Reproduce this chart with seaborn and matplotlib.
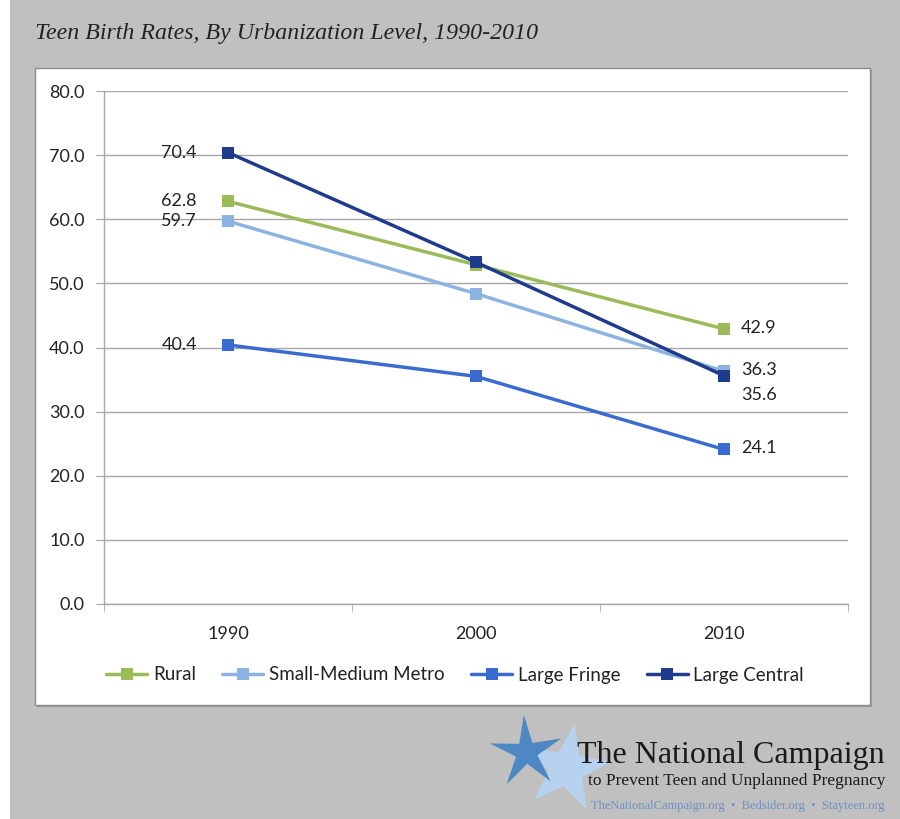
import pandas as pd
import numpy as np
import seaborn as sns
import matplotlib.pyplot as plt
from matplotlib.patches import Rectangle
from matplotlib.path import Path

# values
years = [1990, 2000, 2010]
levels = ["Rural", "Small-Medium Metro", "Large Fringe", "Large Central"]
rural = [62.8, 52.9, 42.9]
small_medium = [59.7, 48.4, 36.3]
large_fringe = [40.4, 35.5, 24.1]
large_central = [70.4, 53.3, 35.6]
colors = ["#9bbb59", "#8db3e2", "#3a6bd0", "#1f3c8c"]

sns.set_style("white")
plt.rcParams['font.family'] = ['Lato', 'DejaVu Sans']

df = pd.DataFrame({
    "year": years * 4,
    "rate": rural + small_medium + large_fringe + large_central,
    "level": [l for l in levels for _ in years],
})

fig = plt.figure(figsize=(9, 8.19), dpi=100)
fig.patch.set_facecolor("white")
W, H = 900, 819

# gray backdrop and white chart box
fig.patches.append(Rectangle((10 / W, 0), 1, 1, transform=fig.transFigure,
                             facecolor="#c0c0c0", edgecolor="none", zorder=-10))
fig.patches.append(Rectangle((37 / W, 1 - 707 / H), 835 / W, 637 / H, transform=fig.transFigure,
                             facecolor="#9a9a9a", edgecolor="none", zorder=-9))
fig.patches.append(Rectangle((35 / W, 1 - 705 / H), 835 / W, 637 / H, transform=fig.transFigure,
                             facecolor="white", edgecolor="#8c8c8c", linewidth=1.0, zorder=-8))

fig.text(35 / W, 1 - 33 / H, "Teen Birth Rates, By Urbanization Level, 1990-2010",
         family="Liberation Serif", style="italic", fontsize=17.2, color="#222222",
         ha="left", va="center")

ax = fig.add_axes([104 / W, 1 - 604 / H, 744 / W, 513 / H])
ax.set_facecolor("none")

sns.lineplot(data=df, x="year", y="rate", hue="level", hue_order=levels,
             palette=colors, style="level", style_order=levels,
             markers=["s"] * 4, dashes=False, markersize=8, markeredgewidth=0,
             linewidth=2.5, ax=ax)

ax.set_xlim(1985, 2015)
ax.set_ylim(0, 80)
ax.set_yticks(np.arange(0, 81, 10))
ax.set_yticklabels([f"{v:.1f}" for v in np.arange(0, 81, 10)])
ax.set_xticks(years)
ax.set_xticks([1985, 1995, 2005, 2015], minor=True)
ax.grid(axis="y", color="#a6a6a6", linewidth=1)
ax.set_xlabel("")
ax.set_ylabel("")
for s in ["top", "right"]:
    ax.spines[s].set_visible(False)
for s in ["left", "bottom"]:
    ax.spines[s].set_color("#a6a6a6")
    ax.spines[s].set_linewidth(1)
ax.tick_params(axis="y", which="major", length=6, color="#a6a6a6", labelsize=13,
               labelcolor="#222222", pad=8, left=True)
ax.tick_params(axis="x", which="major", length=0, labelsize=13, labelcolor="#222222", pad=16)
ax.tick_params(axis="x", which="minor", length=5, color="#a6a6a6", bottom=True)

# data labels
series = [rural, small_medium, large_fringe, large_central]
for vals in series:
    ax.annotate(f"{vals[0]:.1f}", (years[0], vals[0]), xytext=(-31, 0),
                textcoords="offset pixels", ha="right", va="center",
                fontsize=13, color="#222222")
end_shift = [0, 0, 0, -20]
for vals, dy in zip(series, end_shift):
    ax.annotate(f"{vals[-1]:.1f}", (years[-1], vals[-1]), xytext=(17, dy + 1),
                textcoords="offset pixels", ha="left", va="center",
                fontsize=13, color="#222222")

handles, labels = ax.get_legend_handles_labels()
ax.legend_.remove()
fig.legend(handles, labels, loc="center", bbox_to_anchor=(455 / W, 1 - 675 / H),
           ncol=4, frameon=False, fontsize=13.5, handlelength=2.2,
           columnspacing=1.4, handletextpad=0.3, labelcolor="#222222")


# logo stars
def star_path(rot, inner=0.33):
    ang = np.deg2rad(np.arange(10) * 36 + 90 + rot)
    r = np.where(np.arange(10) % 2 == 0, 1.0, inner)
    verts = np.column_stack([r * np.cos(ang), r * np.sin(ang)])
    verts = np.vstack([verts, verts[:1]])
    codes = [Path.MOVETO] + [Path.LINETO] * 9 + [Path.CLOSEPOLY]
    return Path(verts, codes)


lax = fig.add_axes([0, 0, 1, 1], zorder=-5)
lax.set_xlim(0, W)
lax.set_ylim(H, 0)
lax.axis("off")
lax.plot([566], [768], marker=star_path(-10, 0.4), markersize=64, color="#b6d2ee",
         markeredgewidth=0, linestyle="none")
lax.plot([526], [752], marker=star_path(4, 0.3), markersize=54, color="#4d88c4",
         markeredgewidth=0, linestyle="none")
fig.text(885 / W, 1 - 755 / H, "The National Campaign", family="Liberation Serif",
         fontsize=23, color="#1a1a1a", ha="right", va="center")
fig.text(885 / W, 1 - 781 / H, "to Prevent Teen and Unplanned Pregnancy",
         family="Liberation Serif", fontsize=12.5, color="#1a1a1a", ha="right", va="center")
fig.text(885 / W, 1 - 806 / H,
         "TheNationalCampaign.org  \u2022  Bedsider.org  \u2022  Stayteen.org",
         family="Liberation Serif", fontsize=9, color="#6f8fc0", ha="right", va="center")

fig.savefig("out.png", dpi=100)
